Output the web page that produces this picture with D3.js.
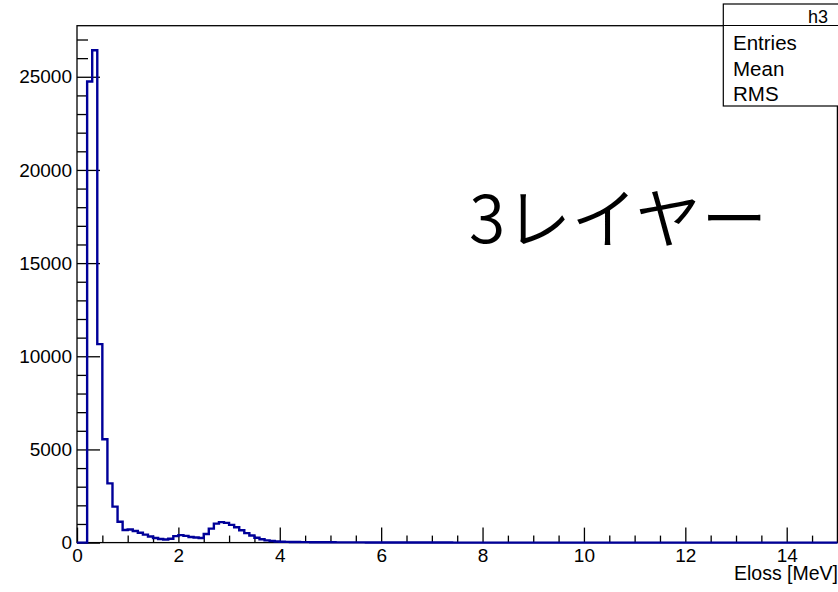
<!DOCTYPE html>
<html>
<head>
<meta charset="utf-8">
<script src="https://cdn.jsdelivr.net/npm/d3@7"></script>
<style>
  html, body { margin: 0; padding: 0; background: #fff; }
  svg { display: block; }
  text { font-family: "Liberation Sans", Arial, Helvetica, sans-serif; fill: #000; }
</style>
</head>
<body>
<svg id="chart" width="838" height="592"></svg>
<script>
// Histogram h3: energy loss, 150 bins of 0.1 MeV from 0 to 15 MeV
const histName = "h3";
const xTitle = "Eloss [MeV]";
const noteText = "3レイヤー";
const binMin = 0, binMax = 15, binWidth = 0.1;
const counts = [
  0, 0, 24750, 26420, 10650, 5550, 3180, 1930, 1120, 680,
  700, 620, 530, 430, 330, 250, 190, 170, 210, 350,
  400, 360, 300, 270, 250, 460, 750, 1020, 1100, 1060,
  950, 820, 660, 510, 380, 260, 180, 120, 85, 60,
  45, 38, 33, 30, 27, 25, 22, 20, 18, 17,
  15, 14, 13, 12, 11, 10, 10, 9, 8, 8,
  7, 6, 6, 5, 5, 4, 4, 3, 3, 3,
  2, 2, 2, 2, 1, 1, 1, 1, 1, 0,
  0, 0, 0, 0, 0, 0, 0, 0, 0, 0,
  0, 0, 0, 0, 0, 0, 0, 0, 0, 0,
  0, 0, 0, 0, 0, 0, 0, 0, 0, 0,
  0, 0, 0, 0, 0, 0, 0, 0, 0, 0,
  0, 0, 0, 0, 0, 0, 0, 0, 0, 0,
  0, 0, 0, 0, 0, 0, 0, 0, 0, 0,
  0, 0, 0, 0, 0, 0, 0, 0, 0, 0
];
const xMajorTicks = [0, 2, 4, 6, 8, 10, 12, 14];
const yMajorTicks = [0, 5000, 10000, 15000, 20000, 25000];
const statLabels = ["Entries", "Mean", "RMS"];

const svg = d3.select("#chart");
const frame = { left: 77, right: 837.4, top: 25.7, bottom: 542.6 };

const x = d3.scaleLinear().domain([binMin, binMax]).range([frame.left, frame.right]);
const yMax = d3.max(counts) * 1.05;
const y = d3.scaleLinear().domain([0, yMax]).range([frame.bottom, frame.top]);

// Minor tick positions
const xMinor = d3.range(0, binMax + 0.001, 0.5).filter(v => v % 2 !== 0);
const yMinor = d3.range(0, yMax, 1000).filter(v => v % 5000 !== 0);

// Frame
svg.append("rect")
  .attr("x", frame.left).attr("y", frame.top)
  .attr("width", frame.right - frame.left).attr("height", frame.bottom - frame.top)
  .attr("fill", "none").attr("stroke", "#000").attr("stroke-width", 1.3);

// Y axis (ticks point into the frame)
const yAxis = svg.append("g").attr("transform", `translate(${frame.left},0)`)
  .call(d3.axisLeft(y).tickValues(yMajorTicks).tickSizeInner(-23).tickSizeOuter(0)
    .tickPadding(5).tickFormat(d3.format("d")));
const yAxisMinor = svg.append("g").attr("transform", `translate(${frame.left},0)`)
  .call(d3.axisLeft(y).tickValues(yMinor).tickSizeInner(-11).tickSizeOuter(0).tickFormat(""));

// X axis
const xAxis = svg.append("g").attr("transform", `translate(0,${frame.bottom})`)
  .call(d3.axisBottom(x).tickValues(xMajorTicks).tickSizeInner(-15).tickSizeOuter(0)
    .tickPadding(6).tickFormat(d3.format("d")));
const xAxisMinor = svg.append("g").attr("transform", `translate(0,${frame.bottom})`)
  .call(d3.axisBottom(x).tickValues(xMinor).tickSizeInner(-7).tickSizeOuter(0).tickFormat(""));

[yAxis, yAxisMinor, xAxis, xAxisMinor].forEach(g => {
  g.select(".domain").remove();
  g.selectAll(".tick line").attr("stroke", "#000").attr("stroke-width", 1.3);
  g.selectAll(".tick text").attr("font-size", 19)
    .attr("font-family", "'Liberation Sans', Arial, Helvetica, sans-serif").attr("fill", "#000");
});

// Histogram outline as a step path
const pts = [[x(binMin), y(0)]];
counts.forEach((c, i) => {
  const lo = binMin + i * binWidth;
  pts.push([x(lo), y(c)]);
  pts.push([x(lo + binWidth), y(c)]);
});
pts.push([x(binMax), y(0)]);
svg.append("path")
  .attr("d", d3.line()(pts))
  .attr("fill", "none")
  .attr("stroke", "#000099")
  .attr("stroke-width", 2.4)
  .attr("stroke-linejoin", "miter");

// Axis title
svg.append("text")
  .attr("x", 838).attr("y", 580)
  .attr("text-anchor", "end")
  .attr("font-size", 19.5)
  .text(xTitle);

// Annotation
svg.append("text")
  .attr("x", 469).attr("y", 243)
  .attr("font-size", 66)
  .attr("font-weight", 350)
  .style("font-family", "'Noto Sans CJK JP', 'Noto Sans', sans-serif")
  .text(noteText);

// Statistics box
const stat = svg.append("g");
stat.append("rect")
  .attr("x", 723.3).attr("y", 4).attr("width", 130).attr("height", 102)
  .attr("fill", "#fff").attr("stroke", "#000").attr("stroke-width", 1.2);
stat.append("line")
  .attr("x1", 723.3).attr("x2", 838).attr("y1", 25.5).attr("y2", 25.5)
  .attr("stroke", "#000").attr("stroke-width", 1.2);
stat.append("text")
  .attr("x", 828).attr("y", 22.5).attr("text-anchor", "end")
  .attr("font-size", 18).text(histName);
stat.selectAll("text.lab").data(statLabels).enter().append("text")
  .attr("class", "lab")
  .attr("x", 733).attr("y", (d, i) => 50 + i * 25.7)
  .attr("font-size", 20.5).text(d => d);
</script>
</body>
</html>
